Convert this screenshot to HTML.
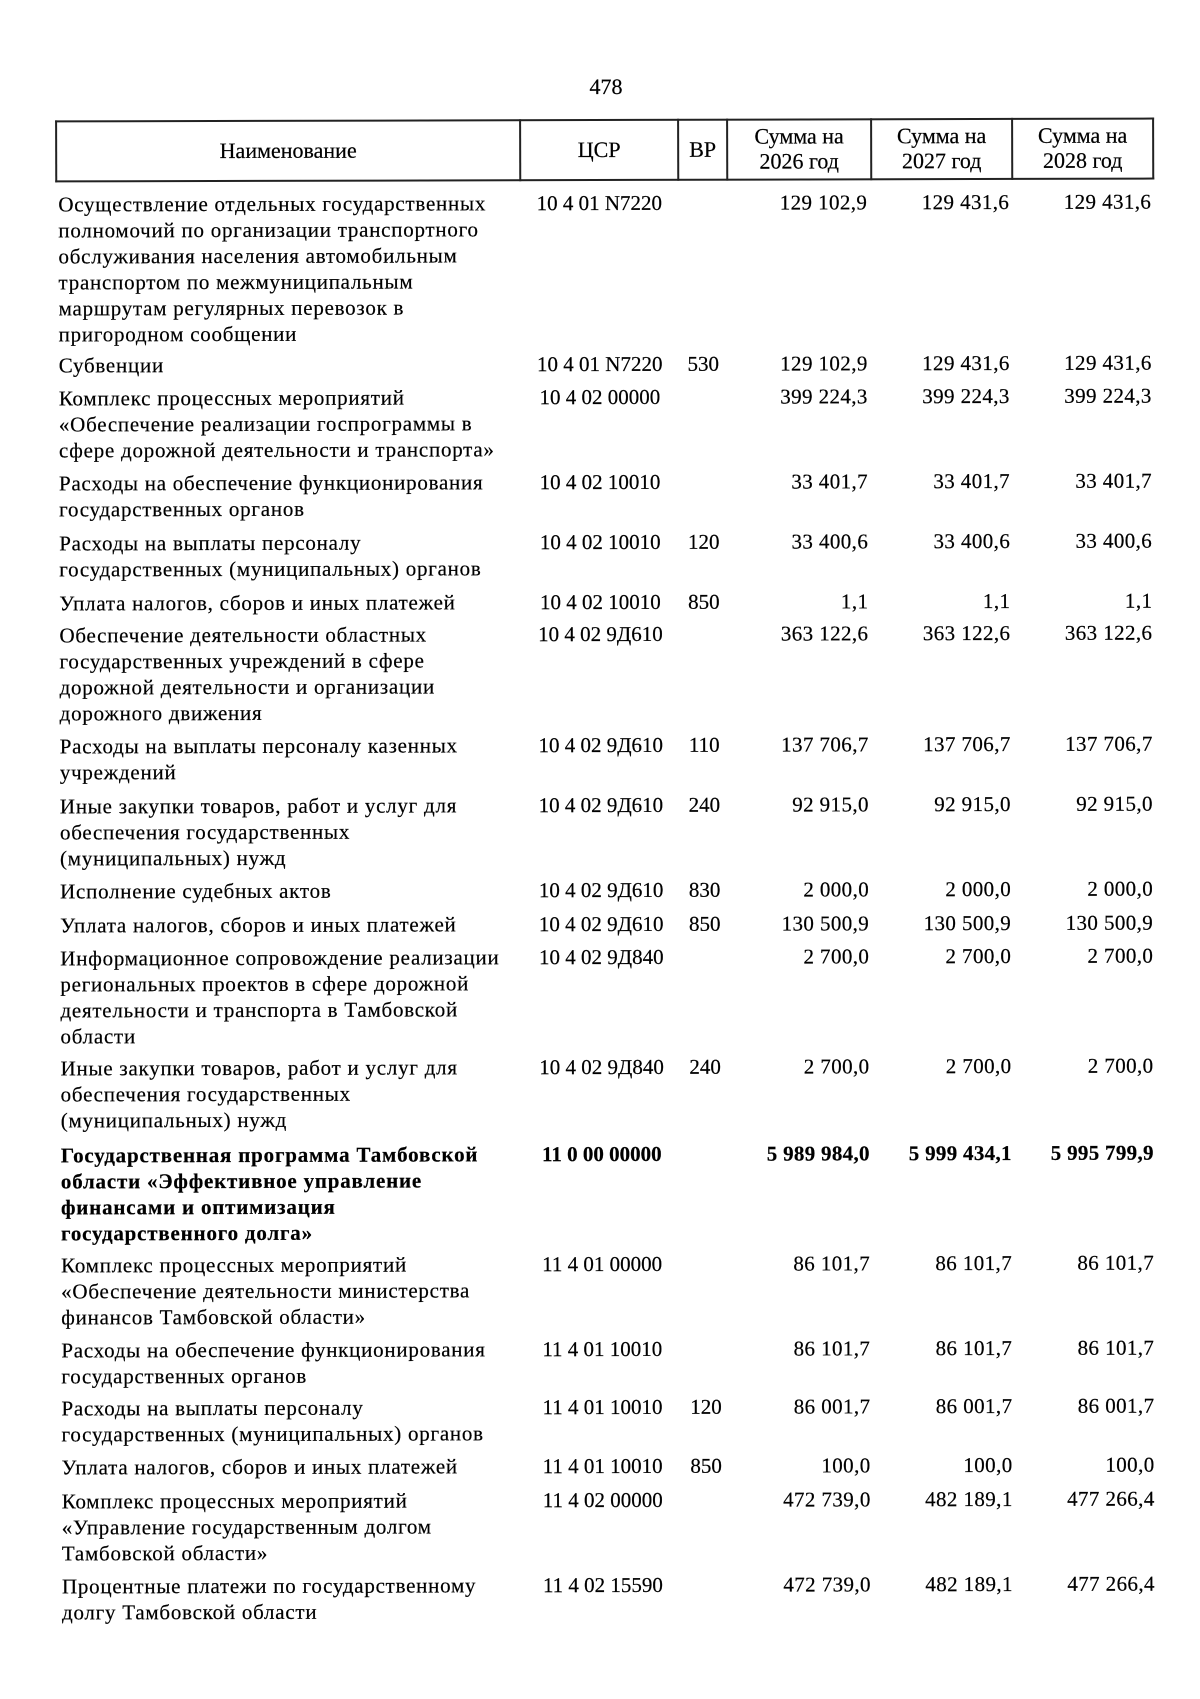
<!DOCTYPE html>
<html><head><meta charset="utf-8">
<style>
html,body{margin:0;padding:0;background:#fff;}
#pg{position:relative;width:1200px;height:1697px;overflow:hidden;background:#fff;
  font-family:"Liberation Serif","DejaVu Serif",serif;font-size:21px;line-height:26px;color:#000;
  -webkit-text-stroke:0.2px #000;
  transform:rotate(-0.15deg);transform-origin:600px 848px;}
.r{position:absolute;left:0;width:1200px;}
.n{position:absolute;left:60px;white-space:nowrap;letter-spacing:0.75px;}
.c{position:absolute;left:522px;width:158px;text-align:center;white-space:nowrap;}
.v{position:absolute;left:680px;width:49px;text-align:center;}
.s1{position:absolute;left:729px;width:140px;text-align:right;white-space:nowrap;letter-spacing:0.4px;}
.s2{position:absolute;left:873px;width:138px;text-align:right;white-space:nowrap;letter-spacing:0.4px;}
.s3{position:absolute;left:1014px;width:139px;text-align:right;white-space:nowrap;letter-spacing:0.4px;}
.b{font-weight:bold;}
.hl{position:absolute;background:#222;}
.h{position:absolute;text-align:center;white-space:nowrap;font-size:22px;}
</style></head><body>
<div id="pg">
<div class="h" style="left:560px;width:96px;top:74px;">478</div>

<!-- header box -->
<div class="hl" style="left:57px;top:119px;width:1099px;height:1.5px;"></div>
<div class="hl" style="left:57px;top:179px;width:1099px;height:1.5px;"></div>
<div class="hl" style="left:57px;top:119px;width:1.5px;height:62px;"></div>
<div class="hl" style="left:521px;top:119px;width:1.5px;height:62px;"></div>
<div class="hl" style="left:679px;top:119px;width:1.5px;height:62px;"></div>
<div class="hl" style="left:728px;top:119px;width:1.5px;height:62px;"></div>
<div class="hl" style="left:872px;top:119px;width:1.5px;height:62px;"></div>
<div class="hl" style="left:1013px;top:119px;width:1.5px;height:62px;"></div>
<div class="hl" style="left:1154px;top:119px;width:1.5px;height:62px;"></div>

<div class="h" style="left:58px;width:464px;top:137px;">Наименование</div>
<div class="h" style="left:522px;width:158px;top:137px;">ЦСР</div>
<div class="h" style="left:680px;width:49px;top:137px;">ВР</div>
<div class="h" style="left:729px;width:144px;top:124px;line-height:25px;">Сумма на<br>2026 год</div>
<div class="h" style="left:873px;width:141px;top:124px;line-height:25px;">Сумма на<br>2027 год</div>
<div class="h" style="left:1014px;width:141px;top:124px;line-height:25px;">Сумма на<br>2028 год</div>

<div class="r" style="top:190px;"><div class="n">Осуществление отдельных государственных<br>полномочий по организации транспортного<br>обслуживания населения автомобильным<br>транспортом по межмуниципальным<br>маршрутам регулярных перевозок в<br>пригородном сообщении</div><div class="c">10 4 01 N7220</div><div class="v"></div><div class="s1">129 102,9</div><div class="s2">129 431,6</div><div class="s3">129 431,6</div></div>

<div class="r" style="top:351px;"><div class="n">Субвенции</div><div class="c">10 4 01 N7220</div><div class="v">530</div><div class="s1">129 102,9</div><div class="s2">129 431,6</div><div class="s3">129 431,6</div></div>

<div class="r" style="top:384px;"><div class="n">Комплекс процессных мероприятий<br>«Обеспечение реализации госпрограммы в<br>сфере дорожной деятельности и транспорта»</div><div class="c">10 4 02 00000</div><div class="s1">399 224,3</div><div class="s2">399 224,3</div><div class="s3">399 224,3</div></div>

<div class="r" style="top:469px;"><div class="n">Расходы на обеспечение функционирования<br>государственных органов</div><div class="c">10 4 02 10010</div><div class="s1">33 401,7</div><div class="s2">33 401,7</div><div class="s3">33 401,7</div></div>

<div class="r" style="top:529px;"><div class="n">Расходы на выплаты персоналу<br>государственных (муниципальных) органов</div><div class="c">10 4 02 10010</div><div class="v">120</div><div class="s1">33 400,6</div><div class="s2">33 400,6</div><div class="s3">33 400,6</div></div>

<div class="r" style="top:589px;"><div class="n">Уплата налогов, сборов и иных платежей</div><div class="c">10 4 02 10010</div><div class="v">850</div><div class="s1">1,1</div><div class="s2">1,1</div><div class="s3">1,1</div></div>

<div class="r" style="top:621px;"><div class="n">Обеспечение деятельности областных<br>государственных учреждений в сфере<br>дорожной деятельности и организации<br>дорожного движения</div><div class="c">10 4 02 9Д610</div><div class="s1">363 122,6</div><div class="s2">363 122,6</div><div class="s3">363 122,6</div></div>

<div class="r" style="top:732px;"><div class="n">Расходы на выплаты персоналу казенных<br>учреждений</div><div class="c">10 4 02 9Д610</div><div class="v">110</div><div class="s1">137 706,7</div><div class="s2">137 706,7</div><div class="s3">137 706,7</div></div>

<div class="r" style="top:792px;"><div class="n">Иные закупки товаров, работ и услуг для<br>обеспечения государственных<br>(муниципальных) нужд</div><div class="c">10 4 02 9Д610</div><div class="v">240</div><div class="s1">92 915,0</div><div class="s2">92 915,0</div><div class="s3">92 915,0</div></div>

<div class="r" style="top:877px;"><div class="n">Исполнение судебных актов</div><div class="c">10 4 02 9Д610</div><div class="v">830</div><div class="s1">2 000,0</div><div class="s2">2 000,0</div><div class="s3">2 000,0</div></div>

<div class="r" style="top:911px;"><div class="n">Уплата налогов, сборов и иных платежей</div><div class="c">10 4 02 9Д610</div><div class="v">850</div><div class="s1">130 500,9</div><div class="s2">130 500,9</div><div class="s3">130 500,9</div></div>

<div class="r" style="top:944px;"><div class="n">Информационное сопровождение реализации<br>региональных проектов в сфере дорожной<br>деятельности и транспорта в Тамбовской<br>области</div><div class="c">10 4 02 9Д840</div><div class="s1">2 700,0</div><div class="s2">2 700,0</div><div class="s3">2 700,0</div></div>

<div class="r" style="top:1054px;"><div class="n">Иные закупки товаров, работ и услуг для<br>обеспечения государственных<br>(муниципальных) нужд</div><div class="c">10 4 02 9Д840</div><div class="v">240</div><div class="s1">2 700,0</div><div class="s2">2 700,0</div><div class="s3">2 700,0</div></div>

<div class="r b" style="top:1141px;"><div class="n" style="letter-spacing:0.8px;">Государственная программа Тамбовской<br>области «Эффективное управление<br>финансами и оптимизация<br>государственного долга»</div><div class="c">11 0 00 00000</div><div class="s1" style="letter-spacing:0.3px;">5 989 984,0</div><div class="s2" style="letter-spacing:0.3px;">5 999 434,1</div><div class="s3" style="letter-spacing:0.3px;">5 995 799,9</div></div>

<div class="r" style="top:1251px;"><div class="n">Комплекс процессных мероприятий<br>«Обеспечение деятельности министерства<br>финансов Тамбовской области»</div><div class="c">11 4 01 00000</div><div class="s1">86 101,7</div><div class="s2">86 101,7</div><div class="s3">86 101,7</div></div>

<div class="r" style="top:1336px;"><div class="n">Расходы на обеспечение функционирования<br>государственных органов</div><div class="c">11 4 01 10010</div><div class="s1">86 101,7</div><div class="s2">86 101,7</div><div class="s3">86 101,7</div></div>

<div class="r" style="top:1394px;"><div class="n">Расходы на выплаты персоналу<br>государственных (муниципальных) органов</div><div class="c">11 4 01 10010</div><div class="v">120</div><div class="s1">86 001,7</div><div class="s2">86 001,7</div><div class="s3">86 001,7</div></div>

<div class="r" style="top:1453px;"><div class="n">Уплата налогов, сборов и иных платежей</div><div class="c">11 4 01 10010</div><div class="v">850</div><div class="s1">100,0</div><div class="s2">100,0</div><div class="s3">100,0</div></div>

<div class="r" style="top:1487px;"><div class="n">Комплекс процессных мероприятий<br>«Управление государственным долгом<br>Тамбовской области»</div><div class="c">11 4 02 00000</div><div class="s1">472 739,0</div><div class="s2">482 189,1</div><div class="s3">477 266,4</div></div>

<div class="r" style="top:1572px;"><div class="n">Процентные платежи по государственному<br>долгу Тамбовской области</div><div class="c">11 4 02 15590</div><div class="s1">472 739,0</div><div class="s2">482 189,1</div><div class="s3">477 266,4</div></div>
</div>
</body></html>
